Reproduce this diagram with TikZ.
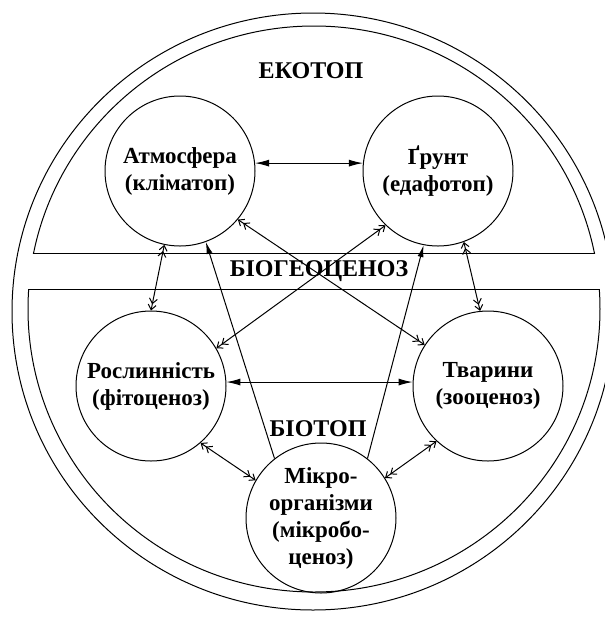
\documentclass[tikz,border=0pt]{standalone}
\usepackage{fontspec}
\setmainfont{Liberation Serif}
\usetikzlibrary{arrows.meta}

\tikzset{
	sphere/.style={draw,circle,minimum size=75pt,inner sep=0pt,align=center,
		font=\bfseries\fontsize{11.5}{13.5}\selectfont},
	zone/.style={font=\bfseries\fontsize{12}{14}\selectfont},
	heavy/.style={{Latex[length=7pt,width=3.5pt]}-{Latex[length=7pt,width=3.5pt]}},
	twoway/.style={{Straight Barb[length=2.5pt,width=4pt]Straight Barb[length=2.5pt,width=4pt]}-{Straight Barb[length=2.5pt,width=4pt]Straight Barb[length=2.5pt,width=4pt]}},
	oneway/.style={-{Latex[length=6pt,width=3pt]}}
}

\begin{document}
\begin{tikzpicture}[x=0.5pt,y=-0.5pt,line width=0.5pt]
	\useasboundingbox (0,0) rectangle (605,617);
	\draw (313,311.5) ellipse [x radius=301,y radius=298.5];
	\begin{scope}
		\clip (0,0) rectangle (605,253);
		\draw (314,309) ellipse [x radius=286,y radius=283];
	\end{scope}
	\draw (33.7,253) -- (594.3,253);
	\begin{scope}
		\clip (0,289) rectangle (605,617);
		\draw (314,309) ellipse [x radius=286,y radius=283];
	\end{scope}
	\draw (28.7,289) -- (599.3,289);
	\node[zone] (eko) at (311,71) {ЕКОТОП};
	\node[zone] (bgc) at (319,271) {БІОГЕОЦЕНОЗ};
	\node[zone] (bio) at (318,429) {БІОТОП};
	\node[sphere] (atm) at (180,171) {Атмосфера\\(кліматоп)};
	\node[sphere] (gr) at (438,171) {Ґрунт\\(едафотоп)};
	\node[sphere] (ros) at (151,386) {Рослинність\\(фітоценоз)};
	\node[sphere] (tv) at (488,386) {Тварини\\(зооценоз)};
	\node[sphere] (mic) at (321,518) {Мікро-\\організми\\(мікробо-\\ценоз)};
	\draw[heavy] (atm.6) -- (gr.174);
	\draw[heavy] (ros.3) -- (tv.177);
	\draw[twoway] (atm.258) -- (ros.90);
	\draw[twoway] (gr.290) -- (tv.96);
	\draw[twoway] (atm.320) -- (tv.147);
	\draw[twoway] (gr.226) -- (ros.30);
	\draw[twoway] (ros.311) -- (mic.150);
	\draw[twoway] (tv.227) -- (mic.32);
	\draw[oneway] (mic.128) -- (atm.290);
	\draw[oneway] (mic.52) -- (gr.259);
\end{tikzpicture}
\end{document}
